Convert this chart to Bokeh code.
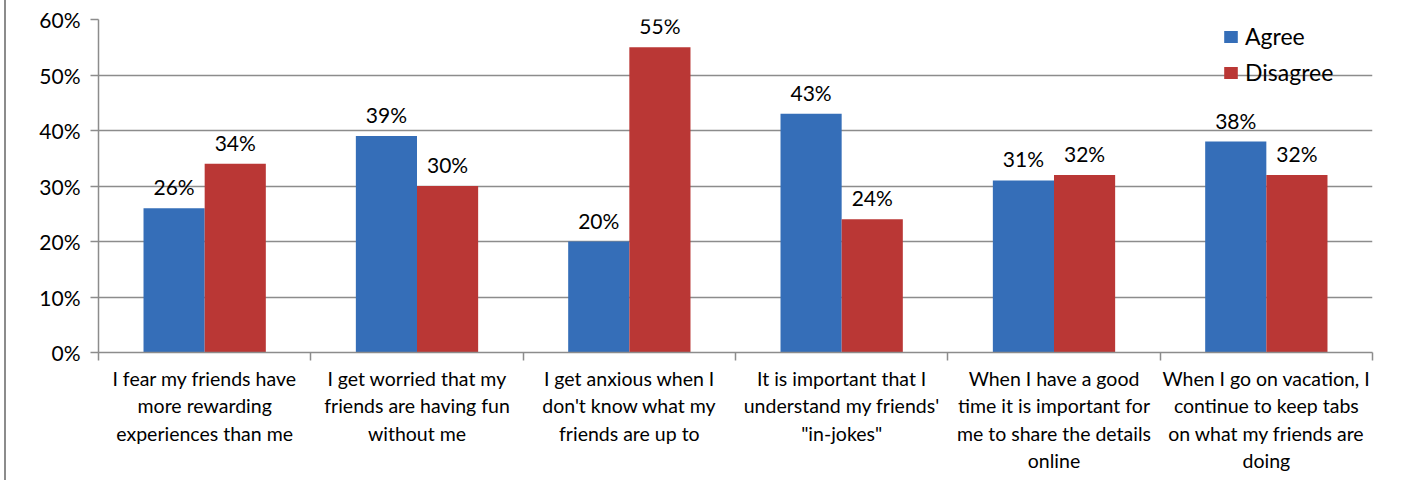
from bokeh.plotting import figure
from bokeh.models import ColumnDataSource, FixedTicker, Range1d, Legend, LegendItem
from bokeh.transform import dodge
from bokeh.embed import file_html
from bokeh.resources import INLINE
from bokeh.core.properties import value
import numpy as np

categories = [
    "I fear my friends have\nmore rewarding\nexperiences than me",
    "I get worried that my\nfriends are having fun\nwithout me",
    "I get anxious when I\ndon't know what my\nfriends are up to",
    "It is important that I\nunderstand my friends'\n\"in-jokes\"",
    "When I have a good\ntime it is important for\nme to share the details\nonline",
    "When I go on vacation, I\ncontinue to keep tabs\non what my friends are\ndoing",
]
agree = [26, 39, 20, 43, 31, 38]
disagree = [34, 30, 55, 24, 32, 32]
y_ticks = [0, 10, 20, 30, 40, 50, 60]

FONT = "Lato"
BLUE = "#356eb8"
RED = "#ba3735"
GRID = "#8c8c8c"

n = len(categories)
xc = np.arange(n) + 0.5
src = ColumnDataSource(dict(
    x=xc, agree=agree, disagree=disagree,
    agree_lbl=[f"{v}%" for v in agree],
    dis_lbl=[f"{v}%" for v in disagree],
))

SHIFT = 6
p = figure(width=1403 - SHIFT, height=480, output_backend="svg", toolbar_location=None,
           x_range=Range1d(0, n), y_range=Range1d(0, 60),
           min_border_left=98 - SHIFT, min_border_right=31, min_border_top=19, min_border_bottom=128)
p.styles = {"border-left": "2px solid #8c8c8c", "margin-left": "4px"}
p.outline_line_color = None
p.background_fill_color = "white"
p.border_fill_color = "white"

bw = 0.288
r1 = p.vbar(x=dodge("x", -bw / 2, range=p.x_range), top="agree", width=bw, bottom=0,
            source=src, fill_color=BLUE, line_color=None)
r2 = p.vbar(x=dodge("x", bw / 2, range=p.x_range), top="disagree", width=bw, bottom=0,
            source=src, fill_color=RED, line_color=None)

p.text(x=dodge("x", -bw / 2, range=p.x_range), y="agree", text="agree_lbl", source=src,
       text_align="center", text_baseline="bottom", y_offset=-9,
       text_font=value(FONT), text_font_size="21px", text_color="black")
p.text(x=dodge("x", bw / 2, range=p.x_range), y="disagree", text="dis_lbl", source=src,
       text_align="center", text_baseline="bottom", y_offset=-9,
       text_font=value(FONT), text_font_size="21px", text_color="black")

# y axis
p.yaxis.ticker = FixedTicker(ticks=y_ticks)
p.yaxis.major_label_overrides = {t: f"{t}%" for t in y_ticks}
p.yaxis.axis_line_color = GRID
p.yaxis.major_tick_line_color = GRID
p.yaxis.major_tick_out = 8
p.yaxis.major_tick_in = 0
p.yaxis.minor_tick_line_color = None
p.yaxis.major_label_text_font = FONT
p.yaxis.major_label_text_font_size = "21px"
p.yaxis.major_label_text_color = "black"
p.yaxis.major_label_standoff = 10
p.yaxis.axis_line_width = 1.5
p.yaxis.major_tick_line_width = 1.5

p.ygrid.ticker = FixedTicker(ticks=y_ticks)
p.ygrid.grid_line_color = GRID
p.ygrid.grid_line_width = 1.5
p.xgrid.grid_line_color = None

# x axis: labels at category centres, tick marks at boundaries
p.xaxis.ticker = FixedTicker(ticks=list(xc), minor_ticks=list(range(n + 1)))
p.xaxis.major_label_overrides = {float(x): c for x, c in zip(xc, categories)}
p.xaxis.major_tick_line_color = None
p.xaxis.minor_tick_line_color = GRID
p.xaxis.minor_tick_out = 8
p.xaxis.minor_tick_in = 0
p.xaxis.minor_tick_line_width = 1.5
p.xaxis.axis_line_color = GRID
p.xaxis.axis_line_width = 1.5
p.xaxis.major_label_text_font = FONT
p.xaxis.major_label_text_font_size = "19.5px"
p.xaxis.major_label_text_color = "black"
p.xaxis.major_label_standoff = 6

legend = Legend(items=[LegendItem(label="Agree", renderers=[r1]),
                       LegendItem(label="Disagree", renderers=[r2])],
                location=(1124, 266), orientation="vertical")
legend.border_line_color = None
legend.background_fill_alpha = 0
legend.padding = 0
legend.margin = 0
legend.spacing = 8
legend.glyph_width = 17
legend.glyph_height = 15
legend.label_standoff = 6
legend.label_text_font = FONT
legend.label_text_font_size = "23px"
legend.label_text_color = "black"
p.add_layout(legend, "center")

open("out.html", "w").write(file_html(p, INLINE))
